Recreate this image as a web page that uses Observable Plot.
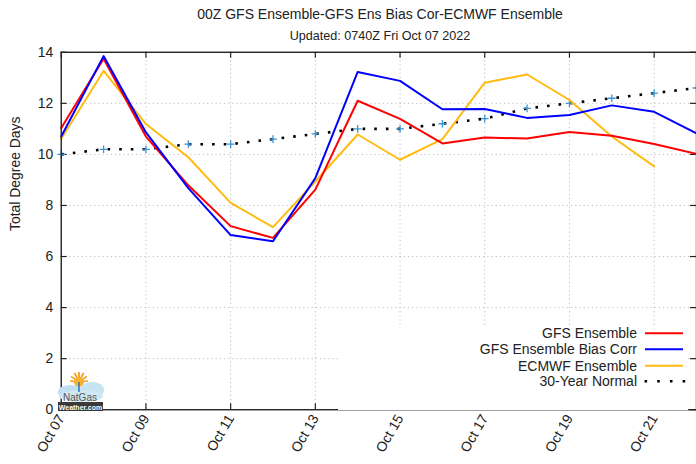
<!DOCTYPE html>
<html>
<head>
<meta charset="utf-8">
<script src="https://cdn.jsdelivr.net/npm/d3@7"></script>
<script src="https://cdn.jsdelivr.net/npm/@observablehq/plot@0.6"></script>
<style>
  html, body { margin: 0; padding: 0; background: #fff; overflow: hidden; }
  #wrap { position: relative; width: 696px; height: 464px; overflow: hidden; font-family: "Liberation Sans", Arial, sans-serif; color: #222; }
  .ttl { position: absolute; left: 380px; transform: translate(-50%, -50%); white-space: nowrap; }
  #title { top: 14px; font-size: 14px; }
  #subtitle { top: 36px; font-size: 12.6px; }
  #chart { position: absolute; left: 0; top: 0; }
  #overlay { position: absolute; left: 0; top: 0; pointer-events: none; }
</style>
</head>
<body>
<div id="wrap">
  <div id="chart"></div>
  <div id="title" class="ttl">00Z GFS Ensemble-GFS Ens Bias Cor-ECMWF Ensemble</div>
  <div id="subtitle" class="ttl">Updated: 0740Z Fri Oct 07 2022</div>
  <svg id="overlay" width="696" height="464"></svg>
</div>
<script>
// ---- data ----
const dates = ["2022-10-07","2022-10-08","2022-10-09","2022-10-10","2022-10-11","2022-10-12","2022-10-13","2022-10-14",
               "2022-10-15","2022-10-16","2022-10-17","2022-10-18","2022-10-19","2022-10-20","2022-10-21","2022-10-22"];
const gfsEns     = [11.03, 13.75, 10.70, 8.79, 7.19, 6.73, 8.62, 12.10, 11.39, 10.43, 10.66, 10.62, 10.88, 10.73, 10.41, 10.02];
const gfsBias    = [10.70, 13.85, 10.86, 8.68, 6.84, 6.60, 9.07, 13.23, 12.88, 11.77, 11.78, 11.43, 11.54, 11.92, 11.67, 10.82];
const ecmwfEns   = [10.61, 13.27, 11.19, 9.89, 8.10, 7.15, 8.94, 10.78, 9.79, 10.60, 12.81, 13.13, 12.13, 10.70, 9.53];
const normal30   = [10.0, 10.2, 10.2, 10.4, 10.4, 10.6, 10.8, 11.0, 11.0, 11.2, 11.4, 11.8, 12.0, 12.2, 12.4, 12.6];
const seriesNames = ["GFS Ensemble", "GFS Ensemble Bias Corr", "ECMWF Ensemble", "30-Year Normal"];
const seriesColors = ["#ff0000", "#0000ff", "#ffbb10", "#000000"];
const xTickDates = ["2022-10-07","2022-10-09","2022-10-11","2022-10-13","2022-10-15","2022-10-17","2022-10-19","2022-10-21"];
const yTicks = [0, 2, 4, 6, 8, 10, 12, 14];
const yLabel = "Total Degree Days";

// ---- build ----
const parse = d3.utcParse("%Y-%m-%d");
const toRows = (vals) => vals.map((v, i) => ({date: parse(dates[i]), value: v}));
const rGfs = toRows(gfsEns), rBias = toRows(gfsBias), rEc = toRows(ecmwfEns), rNorm = toRows(normal30);
const xt = xTickDates.map(parse);

const W = 699, H = 464, mL = 61, mR = 0, mT = 52, mB = 53;
const innerW = W - mL - mR, innerH = H - mT - mB;
const axisColor = "#222";

const chart = Plot.plot({
  width: W, height: H,
  marginLeft: mL, marginRight: mR, marginTop: mT, marginBottom: mB,
  style: {fontFamily: "'Liberation Sans', Arial, sans-serif", fontSize: "14px", color: "#222", background: "white"},
  x: {type: "utc", domain: [parse(dates[0]), parse(dates[dates.length - 1])]},
  y: {domain: [0, 14]},
  marks: [
    Plot.gridY(yTicks.filter(d => d > 0 && d < 14), {stroke: "#bdbdbd", strokeOpacity: 1, strokeDasharray: "1.2 3"}),
    Plot.gridX(xt.slice(1), {stroke: "#bdbdbd", strokeOpacity: 1, strokeDasharray: "1.2 3"}),
    Plot.axisY({ticks: yTicks, tickSize: 0, tickPadding: 8, fontSize: 14, label: null}),
    Plot.axisX({ticks: xt, tickFormat: d3.utcFormat("%b %d"), tickRotate: -60, tickSize: 0, tickPadding: 6, fontSize: 14, label: null}),
    Plot.text([yLabel], {frameAnchor: "left", rotate: -90, dx: -46, fontSize: 14, fill: "#222"}),
    // inward ticks
    Plot.tickY(yTicks, {y: d => d, insetRight: innerW - 6, stroke: axisColor, strokeWidth: 1.2}),
    Plot.tickY(yTicks, {y: d => d, insetLeft: innerW - 6, stroke: axisColor, strokeWidth: 1.2}),
    Plot.tickX(xt, {x: d => d, insetTop: innerH - 6, stroke: axisColor, strokeWidth: 1.2}),
    Plot.tickX(xt, {x: d => d, insetBottom: innerH - 6, stroke: axisColor, strokeWidth: 1.2}),
    // normal
    Plot.line(rNorm, {x: "date", y: "value", stroke: seriesColors[3], strokeWidth: 2.6, strokeDasharray: "2.6 9.1", strokeLinecap: "butt"}),
    Plot.dot(rNorm, {x: "date", y: "value", symbol: "plus", r: 2.6, fill: "none", stroke: "#3a95d4", strokeWidth: 1.3}),
    // series
    Plot.line(rEc, {x: "date", y: "value", stroke: seriesColors[2], strokeWidth: 2}),
    Plot.line(rGfs, {x: "date", y: "value", stroke: seriesColors[0], strokeWidth: 2}),
    Plot.line(rBias, {x: "date", y: "value", stroke: seriesColors[1], strokeWidth: 2}),
    Plot.frame({stroke: axisColor, strokeWidth: 1.4})
  ]
});
document.getElementById("chart").appendChild(chart);

// ---- overlay: legend box + logo ----
const ov = d3.select("#overlay");
ov.append("rect").attr("x", 338).attr("y", 325).attr("width", 350).attr("height", 85).attr("fill", "white");
const rowY = [333.3, 349.3, 365.7, 381.3];
seriesNames.forEach((name, i) => {
  ov.append("text").attr("x", 637).attr("y", rowY[i]).attr("text-anchor", "end").attr("dy", "0.35em")
    .attr("font-family", "'Liberation Sans', Arial, sans-serif").attr("font-size", 14).attr("fill", "#222").text(name);
  if (i < 3) {
    ov.append("line").attr("x1", 645).attr("x2", 683).attr("y1", rowY[i]).attr("y2", rowY[i])
      .attr("stroke", seriesColors[i]).attr("stroke-width", 2);
  } else {
    ov.append("line").attr("x1", 644.5).attr("x2", 686).attr("y1", rowY[i]).attr("y2", rowY[i])
      .attr("stroke", seriesColors[i]).attr("stroke-width", 2.6).attr("stroke-dasharray", "2.6 10.1");
  }
});
// logo
const lg = ov.append("g");
const sun = lg.append("g").attr("transform", "translate(79,382)");
for (let a = 0; a < 360; a += 30) {
  sun.append("line").attr("x1", 0).attr("y1", 0).attr("x2", 9 * Math.cos(a * Math.PI / 180)).attr("y2", -9 * Math.abs(Math.sin(a * Math.PI / 180)) - 1)
    .attr("stroke", "#f5a020").attr("stroke-width", 1.5);
}
sun.append("circle").attr("r", 5).attr("fill", "#f7b030");
lg.append("ellipse").attr("cx", 70).attr("cy", 392).attr("rx", 12).attr("ry", 7).attr("fill", "#bfe0f0");
lg.append("ellipse").attr("cx", 92).attr("cy", 390).attr("rx", 12).attr("ry", 8).attr("fill", "#c6e4f2");
lg.append("ellipse").attr("cx", 81).attr("cy", 396).attr("rx", 22).attr("ry", 6).attr("fill", "#cfe8f4");
lg.append("line").attr("x1", 79).attr("x2", 79).attr("y1", 382).attr("y2", 392).attr("stroke", "#2f7fc0").attr("stroke-width", 1.6);
lg.append("text").attr("x", 80).attr("y", 401).attr("text-anchor", "middle")
  .attr("font-family", "'Liberation Sans', Arial, sans-serif").attr("font-size", 10).attr("fill", "#555").text("NatGas");
lg.append("rect").attr("x", 58).attr("y", 402).attr("width", 45).attr("height", 9).attr("fill", "#3a3a3a");
lg.append("text").attr("x", 80.5).attr("y", 409.5).attr("text-anchor", "middle")
  .attr("font-family", "'Liberation Sans', Arial, sans-serif").attr("font-size", 7).attr("font-weight", "bold").attr("fill", "#fff").text("Weather.com");
</script>
</body>
</html>
